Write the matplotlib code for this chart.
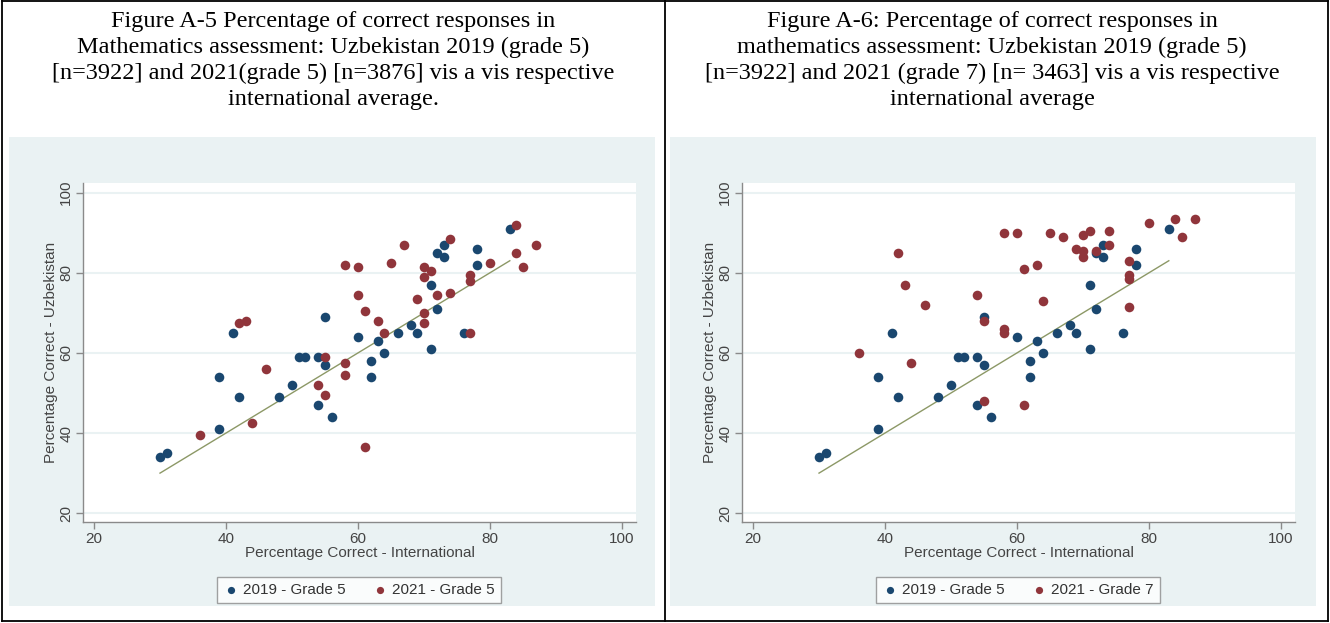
import matplotlib.pyplot as plt
from matplotlib.lines import Line2D
from matplotlib.patches import Rectangle

W, H = 1330, 623

# 2019 grade 5 (same points in both panels)
intl_2019 = [30, 31, 39, 42, 39, 48, 50, 41, 51, 52, 54, 55, 54, 56, 60, 55, 62, 62,
             63, 64, 66, 68, 69, 71, 71, 72, 73, 73, 72, 76, 78, 78, 83]
uzb_2019 = [34, 35, 41, 49, 54, 49, 52, 65, 59, 59, 59, 57, 47, 44, 64, 69, 58, 54,
            63, 60, 65, 67, 65, 61, 77, 85, 84, 87, 71, 65, 86, 82, 91]

# 2021 grade 5 (Figure A-5)
intl_2021_g5 = [36, 44, 42, 43, 46, 55, 58, 58, 54, 55, 61, 58, 60, 60, 61, 63, 64, 65,
                67, 69, 70, 70, 70, 71, 70, 74, 72, 74, 77, 77, 77, 80, 84, 84, 85, 87]
uzb_2021_g5 = [39.5, 42.5, 67.5, 68, 56, 59, 57.5, 54.5, 52, 49.5, 36.5, 82, 81.5, 74.5,
               70.5, 68, 65, 82.5, 87, 73.5, 70, 67.5, 81.5, 80.5, 79, 88.5, 74.5, 75,
               65, 79.5, 78, 82.5, 92, 85, 81.5, 87]

# 2021 grade 7 (Figure A-6)
intl_2021_g7 = [36, 42, 43, 46, 44, 54, 55, 58, 58, 61, 55, 64, 61, 63, 58, 60, 65, 67,
                70, 71, 74, 69, 70, 70, 72, 74, 77, 77, 77, 77, 80, 84, 85, 87]
uzb_2021_g7 = [60, 85, 77, 72, 57.5, 74.5, 68, 66, 65, 47, 48, 73, 81, 82, 90, 90, 90, 89,
               89.5, 90.5, 90.5, 86, 85.5, 84, 85.5, 87, 83, 79.5, 78.5, 71.5, 92.5, 93.5,
               89, 93.5]

ticks = [20, 40, 60, 80, 100]

titles = [
    ["Figure A-5 Percentage of correct responses in",
     "Mathematics assessment: Uzbekistan 2019 (grade 5)",
     "[n=3922] and 2021(grade 5) [n=3876] vis a vis respective",
     "international average."],
    ["Figure A-6: Percentage of correct responses in",
     "mathematics assessment: Uzbekistan 2019 (grade 5)",
     "[n=3922] and 2021 (grade 7) [n= 3463] vis a vis respective",
     "international average"],
]
legend_labels = [["2019 - Grade 5", "2021 - Grade 5"],
                 ["2019 - Grade 5", "2021 - Grade 7"]]

NAVY = "#1a476f"
MAROON = "#90353b"
BG = "#eaf2f3"
LINE = "#8c9866"
SANS = "Liberation Sans"
FS = 11


def fx(x):
    return x / W


def fy(y):
    return 1 - y / H


fig = plt.figure(figsize=(W / 100, H / 100), dpi=100)

# table borders
for x0, y0, x1, y1 in [(2, 1, 1328, 1), (2, 621, 1328, 621), (2, 1, 2, 621),
                       (1328, 1, 1328, 621), (665, 1, 665, 621)]:
    fig.add_artist(Line2D([fx(x0), fx(x1)], [fy(y0), fy(y1)], color="black", lw=1.3))


def panel(off, bg_left, title, xs2, ys2, labels):
    cx = 333 + off
    for i, line in enumerate(title):
        fig.text(fx(cx), fy(21 + i * 26), line, ha="center", va="center",
                 family="Liberation Serif", fontsize=17.5)

    # graph region background
    fig.add_artist(Rectangle((fx(bg_left), fy(606)), 646 / W, (606 - 137) / H,
                             facecolor=BG, edgecolor="none", zorder=0))

    ax = fig.add_axes([fx(83 + off), fy(522), 553 / W, 339 / H])
    ax.set_facecolor("white")
    ax.set_xlim(18.33, 102.12)
    ax.set_ylim(17.8, 102.4)
    ax.set_xticks(ticks)
    ax.set_yticks(ticks)
    for t in ticks:
        ax.axhline(t, color=BG, lw=1.5, zorder=0)
    for s in ["top", "right"]:
        ax.spines[s].set_visible(False)
    for s in ["left", "bottom"]:
        ax.spines[s].set_color("#8a8a8a")
        ax.spines[s].set_linewidth(1.0)
    ax.tick_params(colors="#8a8a8a", labelcolor="#444444", length=5, width=1,
                   labelsize=FS, pad=2)
    plt.setp(ax.get_yticklabels(), rotation=90, va="center", family=SANS)
    plt.setp(ax.get_xticklabels(), family=SANS)
    ax.set_xlabel("Percentage Correct - International", family=SANS, fontsize=FS,
                  color="#444444", labelpad=0)
    ax.set_ylabel("Percentage Correct - Uzbekistan", family=SANS, fontsize=FS,
                  color="#444444", labelpad=1)

    ax.scatter(intl_2019, uzb_2019, s=48, color=NAVY, label=labels[0], zorder=3,
               linewidths=0)
    ax.scatter(xs2, ys2, s=48, color=MAROON, label=labels[1], zorder=3, linewidths=0)
    lx = [min(intl_2019), max(intl_2019)]
    ax.plot(lx, lx, color=LINE, lw=1.0, zorder=2)

    leg = ax.legend(loc="center", bbox_to_anchor=(fx(359 + off), fy(590)),
                    bbox_transform=fig.transFigure, ncol=2, frameon=True,
                    fancybox=False, edgecolor="#8a8a8a", prop={"family": SANS, "size": FS},
                    handletextpad=0.25, columnspacing=1.8, borderpad=0.4,
                    markerscale=0.75, handlelength=1.0)
    leg.get_frame().set_linewidth(1.0)
    for txt in leg.get_texts():
        txt.set_color("#333333")


panel(0, 9, titles[0], intl_2021_g5, uzb_2021_g5, legend_labels[0])
panel(659, 670, titles[1], intl_2021_g7, uzb_2021_g7, legend_labels[1])

fig.savefig("out.png", dpi=100)
